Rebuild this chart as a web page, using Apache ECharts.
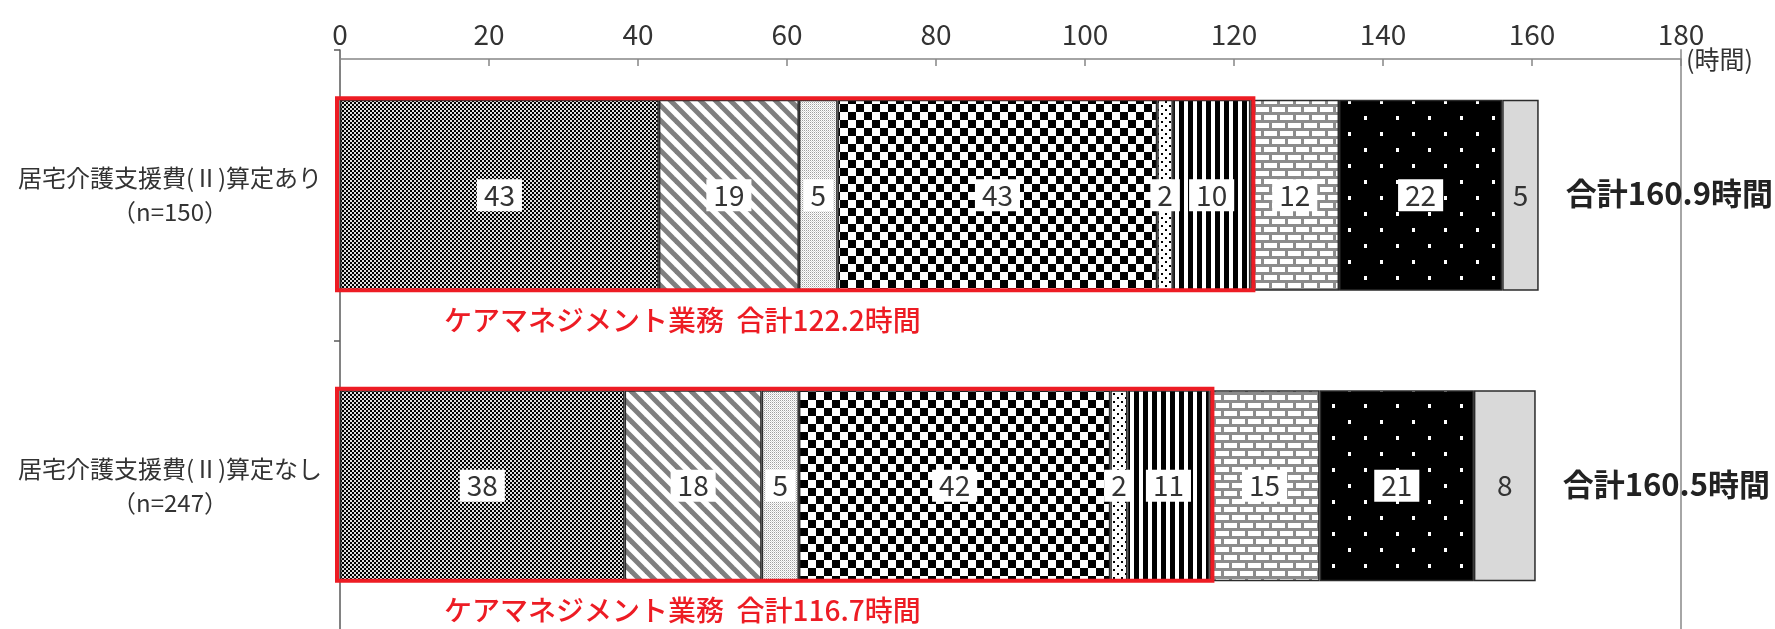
<!DOCTYPE html>
<html>
<head>
<meta charset="utf-8">
<script src="https://cdn.jsdelivr.net/npm/echarts@6/dist/echarts.min.js"></script>
<style>
  html, body { margin: 0; padding: 0; background: #fff; }
  #main { width: 1775px; height: 629px; }
</style>
</head>
<body>
<div id="main"></div>
<script>
// カテゴリ（上から）
const categories = ['居宅介護支援費(Ⅱ)算定あり\n（n=150）', '居宅介護支援費(Ⅱ)算定なし\n（n=247）'];

// 業務ごとの時間（上段, 下段）
const seg1 = [42.8, 38.2];
const seg2 = [18.8, 18.4];
const seg3 = [5.2, 5.0];
const seg4 = [42.9, 41.8];
const seg5 = [2.1, 2.3];
const seg6 = [10.4, 11.0];
const seg7 = [11.9, 14.8];
const seg8 = [21.9, 20.7];
const seg9 = [4.9, 8.3];

// 合計
const careTotals = [122.2, 116.7];
const grandTotals = [160.9, 160.5];

// 軸目盛
const axisMin = 0;
const axisMax = 180;
const axisStep = 20;

const FONT = "'Noto Sans CJK JP', 'Noto Sans', sans-serif";

// パターン用のタイル
function tile(w, h, draw) {
    const c = document.createElement('canvas');
    c.width = w;
    c.height = h;
    draw(c.getContext('2d'));
    return c;
}

const patterns = [
    // 細かい市松
    tile(4, 4, ctx => {
        ctx.fillStyle = '#e0e0e0'; ctx.fillRect(0, 0, 4, 4);
        ctx.fillStyle = '#000'; ctx.fillRect(0, 0, 2, 2); ctx.fillRect(2, 2, 2, 2);
    }),
    // 斜線
    tile(15, 15, ctx => {
        ctx.fillStyle = '#fff'; ctx.fillRect(0, 0, 15, 15);
        ctx.strokeStyle = '#7f7f7f'; ctx.lineWidth = 5;
        for (let k = -1; k <= 1; k++) {
            ctx.beginPath();
            ctx.moveTo(k * 15 - 3, -3);
            ctx.lineTo(k * 15 + 18, 18);
            ctx.stroke();
        }
    }),
    // 細かい点
    tile(2, 2, ctx => {
        ctx.fillStyle = '#fff'; ctx.fillRect(0, 0, 2, 2);
        ctx.fillStyle = '#a0a0a0'; ctx.fillRect(0, 0, 1, 1);
        ctx.fillStyle = '#d8d8d8'; ctx.fillRect(1, 1, 1, 1);
    }),
    // 大きい市松
    tile(16, 16, ctx => {
        ctx.fillStyle = '#fff'; ctx.fillRect(0, 0, 16, 16);
        ctx.fillStyle = '#000'; ctx.fillRect(0, 0, 8, 8); ctx.fillRect(8, 8, 8, 8);
    }),
    // まばらな点
    tile(8, 8, ctx => {
        ctx.fillStyle = '#fff'; ctx.fillRect(0, 0, 8, 8);
        ctx.fillStyle = '#000'; ctx.fillRect(1, 1, 2, 2); ctx.fillRect(5, 5, 2, 2);
    }),
    // 縦縞
    tile(9, 2, ctx => {
        ctx.fillStyle = '#fff'; ctx.fillRect(0, 0, 9, 2);
        ctx.fillStyle = '#000'; ctx.fillRect(0, 0, 5, 2);
    }),
    // れんが
    tile(16, 16, ctx => {
        ctx.fillStyle = '#8c8c8c'; ctx.fillRect(0, 0, 16, 16);
        ctx.fillStyle = '#fff';
        ctx.fillRect(0, 3, 13, 5);
        ctx.fillRect(8, 11, 8, 5);
        ctx.fillRect(0, 11, 5, 5);
    }),
    // 黒地に白点
    tile(32, 32, ctx => {
        ctx.fillStyle = '#000'; ctx.fillRect(0, 0, 32, 32);
        ctx.fillStyle = '#fff'; ctx.fillRect(4, 4, 3, 4); ctx.fillRect(20, 20, 3, 4);
    }),
    null
];

const segData = [seg1, seg2, seg3, seg4, seg5, seg6, seg7, seg8, seg9];

let myChart = echarts.init(document.getElementById('main'));

let barSeries = segData.map((d, i) => {
    let last = i === segData.length - 1;
    return {
        name: 'seg' + (i + 1),
        type: 'bar',
        stack: 'total',
        barWidth: 191,
        yAxisIndex: 0,
        data: d,
        itemStyle: {
            color: patterns[i] ? { image: patterns[i], repeat: 'repeat' } : '#d9d9d9',
            borderColor: '#2b2b2b',
            borderWidth: 1.5
        },
        label: {
            show: true,
            position: 'inside',
            formatter: p => Math.round(p.value),
            fontFamily: FONT,
            fontSize: 28,
            color: '#333',
            backgroundColor: last ? 'transparent' : '#fff',
            padding: [2, 7]
        },
        emphasis: { disabled: true },
        silent: true
    };
});

// 赤枠・注記・合計
let customSeries = {
    type: 'custom',
    yAxisIndex: 0,
    encode: { x: 0, y: 1 },
    z: 10,
    silent: true,
    data: categories.map((c, i) => [careTotals[i], i, grandTotals[i]]),
    renderItem: function (params, api) {
        let cat = api.value(1);
        let p0 = api.coord([0, cat]);
        let p1 = api.coord([api.value(0), cat]);
        let pt = api.coord([api.value(2), cat]);
        let cy = p0[1];
        return {
            type: 'group',
            children: [
                {
                    type: 'rect',
                    shape: { x: p0[0] - 3, y: cy - 97, width: p1[0] - p0[0] + 6, height: 192 },
                    style: { fill: 'none', stroke: '#ed1c24', lineWidth: 4 }
                },
                {
                    type: 'text',
                    x: p0[0] + 104,
                    y: cy + 125,
                    style: {
                        text: 'ケアマネジメント業務  合計' + api.value(0).toFixed(1) + '時間',
                        fill: '#ed1c24',
                        font: '500 28px ' + FONT,
                        textAlign: 'left',
                        textVerticalAlign: 'middle'
                    }
                },
                {
                    type: 'text',
                    x: pt[0] + 27,
                    y: cy - 2,
                    style: {
                        text: '合計' + api.value(2).toFixed(1) + '時間',
                        fill: '#222',
                        font: 'bold 31px ' + FONT,
                        textAlign: 'left',
                        textVerticalAlign: 'middle'
                    }
                }
            ]
        };
    }
};

let option = {
    backgroundColor: '#fff',
    animation: false,
    textStyle: { fontFamily: FONT },
    grid: {
        left: 340,
        top: 50,
        width: 1341,
        height: 581,
        containLabel: false,
        outerBoundsMode: 'none'
    },
    xAxis: {
        type: 'value',
        position: 'top',
        offset: -9,
        min: axisMin,
        max: axisMax,
        interval: axisStep,
        name: '(時間)',
        nameLocation: 'end',
        nameGap: 5,
        nameMoveOverlap: false,
        nameTextStyle: {
            fontSize: 25,
            color: '#333',
            fontFamily: FONT,
            verticalAlign: 'middle',
            padding: [0, 0, 20, 0]
        },
        axisLine: { show: true, lineStyle: { color: '#868686', width: 1.5 } },
        axisTick: { show: true, inside: true, length: 7, lineStyle: { color: '#868686', width: 1.5 } },
        axisLabel: { fontSize: 28, color: '#333', margin: 11, fontFamily: FONT },
        splitLine: { show: false }
    },
    yAxis: [
        {
            type: 'category',
            inverse: true,
            data: categories,
            axisLine: { show: true, lineStyle: { color: '#595959', width: 1.5 } },
            axisTick: { show: true, length: 6, lineStyle: { color: '#595959', width: 1.5 } },
            axisLabel: {
                fontSize: 24,
                color: '#333',
                lineHeight: 34,
                align: 'center',
                margin: 170,
                fontFamily: FONT
            }
        },
        {
            type: 'category',
            inverse: true,
            position: 'right',
            data: categories,
            axisLine: { show: true, lineStyle: { color: '#a6a6a6', width: 2 } },
            axisTick: { show: false },
            axisLabel: { show: false }
        }
    ],
    series: barSeries.concat([customSeries])
};

myChart.setOption(option);
</script>
</body>
</html>
